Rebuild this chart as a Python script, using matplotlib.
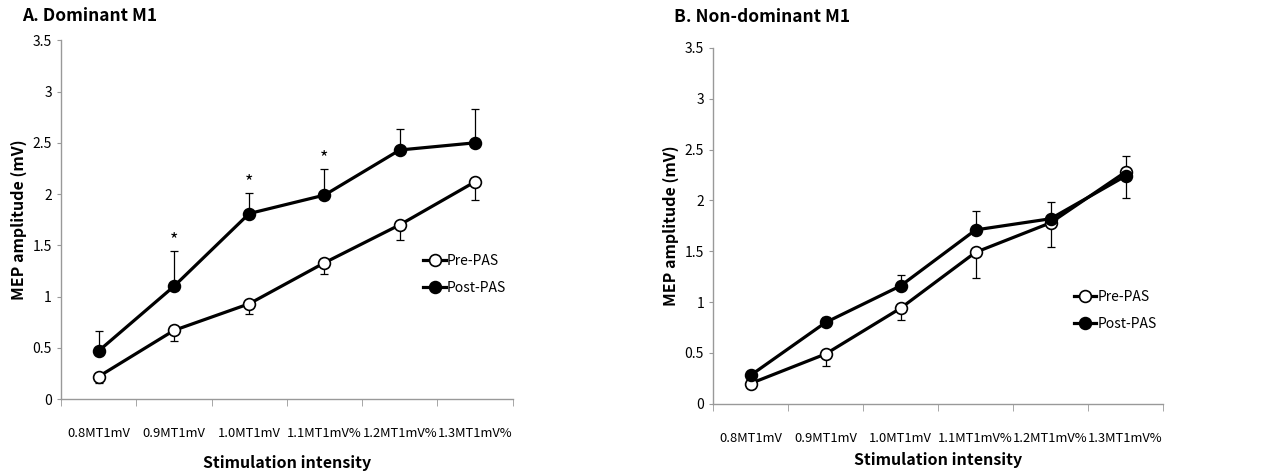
import numpy as np
import matplotlib.pyplot as plt

plt.rcParams['font.family'] = ['Noto Sans CJK KR', 'DejaVu Sans']

categories = ['0.8MT1mV', '0.9MT1mV', '1.0MT1mV', '1.1MT1mV%', '1.2MT1mV%', '1.3MT1mV%']

# A. Dominant M1
dom_pre = [0.22, 0.67, 0.93, 1.33, 1.70, 2.12]
dom_pre_err = [0.06, 0.10, 0.10, 0.11, 0.15, 0.18]      # lower bars
dom_post = [0.47, 1.10, 1.81, 1.99, 2.43, 2.50]
dom_post_err = [0.19, 0.34, 0.20, 0.25, 0.20, 0.33]     # upper bars
dom_sig = [1, 2, 3]

# B. Non-dominant M1
non_pre = [0.20, 0.49, 0.94, 1.49, 1.78, 2.28]
non_pre_err = [0.03, 0.12, 0.12, 0.25, 0.24, 0.26]
non_post = [0.28, 0.80, 1.16, 1.71, 1.82, 2.24]
non_post_err = [0.03, 0.05, 0.11, 0.19, 0.16, 0.20]

x = np.arange(len(categories))
fig = plt.figure(figsize=(12.76, 4.74), dpi=100)
ax1 = fig.add_axes([0.0478, 0.158, 0.354, 0.757])
ax2 = fig.add_axes([0.5588, 0.148, 0.3527, 0.751])


def draw(ax, pre, pre_err, post, post_err, title, title_y, leg_xy, xpad, sig=()):
    zeros = np.zeros(len(pre))
    ax.errorbar(x, pre, yerr=[pre_err, zeros], fmt='none', ecolor='black',
                elinewidth=0.9, capsize=3, capthick=0.9, zorder=1)
    ax.errorbar(x, post, yerr=[zeros, post_err], fmt='none', ecolor='black',
                elinewidth=0.9, capsize=3, capthick=0.9, zorder=1)
    ax.plot(x, pre, '-o', color='black', lw=2.3, ms=8.5, mfc='white',
            mec='black', mew=1.2, label='Pre-PAS', zorder=3)
    ax.plot(x, post, '-o', color='black', lw=2.3, ms=8.5, mfc='black',
            mec='black', mew=1.2, label='Post-PAS', zorder=3)
    for i in sig:
        ax.text(x[i], post[i] + post_err[i] + 0.02, '*', ha='center',
                va='bottom', fontsize=13)

    ax.set_xlim(-0.5, 5.5)
    ax.set_ylim(0, 3.5)
    ax.set_yticks(np.arange(0, 3.51, 0.5))
    ax.set_yticklabels(['0', '0.5', '1', '1.5', '2', '2.5', '3', '3.5'])
    ax.set_xticks(x)
    ax.set_xticklabels(categories)
    ax.set_xticks(np.arange(-0.5, 5.6, 1), minor=True)
    ax.tick_params(axis='x', which='major', length=0, pad=20, labelsize=9.3)
    ax.tick_params(axis='x', which='minor', length=5, color='#999999')
    ax.tick_params(axis='y', length=3, color='#999999', labelsize=10)
    for s in ['top', 'right']:
        ax.spines[s].set_visible(False)
    for s in ['left', 'bottom']:
        ax.spines[s].set_color('#999999')
        ax.spines[s].set_linewidth(1)
    ax.set_xlabel('Stimulation intensity', fontweight='bold', fontsize=11.5,
                  labelpad=xpad)
    ax.set_ylabel('MEP amplitude (mV)', fontweight='bold', fontsize=11.5,
                  labelpad=4)
    ax.legend(loc='upper left', bbox_to_anchor=leg_xy, frameon=False,
              handlelength=1.6, handletextpad=0.1, labelspacing=0.95,
              fontsize=10, borderaxespad=0)
    ax.text(-0.086, title_y, title, transform=ax.transAxes, fontsize=12.5,
            fontweight='bold', ha='left', va='center')


draw(ax1, dom_pre, dom_pre_err, dom_post, dom_post_err, 'A. Dominant M1',
     1.067, (0.79, 0.42), 11, dom_sig)
draw(ax2, non_pre, non_pre_err, non_post, non_post_err, 'B. Non-dominant M1',
     1.087, (0.79, 0.335), 5)

fig.savefig('out.png', dpi=100)
